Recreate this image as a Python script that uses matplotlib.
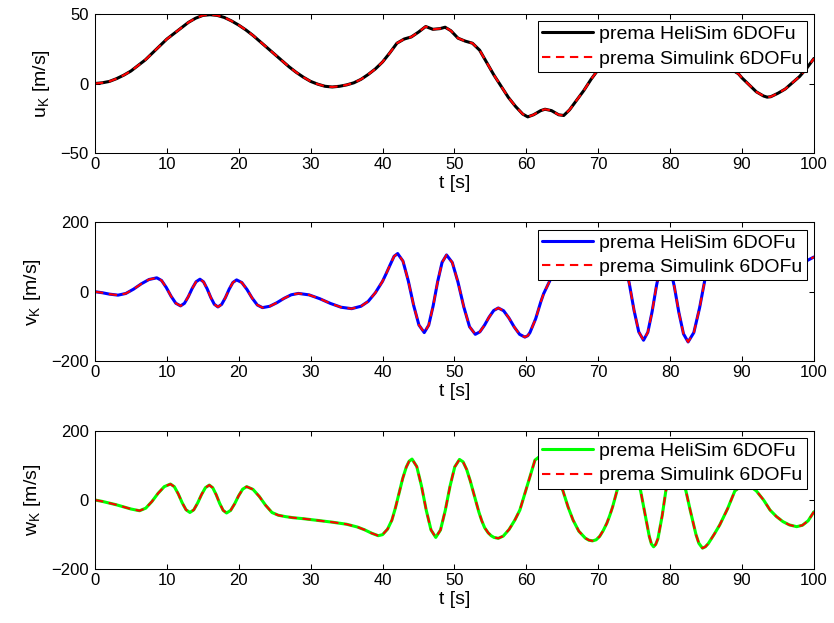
import matplotlib
matplotlib.use("Agg")
import matplotlib.pyplot as plt

plt.rcParams['font.family'] = ['Liberation Sans', 'DejaVu Sans']
plt.rcParams['mathtext.fontset'] = 'custom'
plt.rcParams['mathtext.rm'] = 'Liberation Sans'

# ---------------- data ----------------
t_u = [0, 1, 2, 3, 4, 5, 6, 7, 8, 9, 10, 11, 12, 13, 14, 15, 16, 17, 18, 19,
       20, 21, 22, 23, 24, 25, 26, 27, 28, 29, 30, 31, 32, 33, 34, 35, 36, 37,
       38, 39, 40, 41, 42, 43, 44, 45, 46, 47, 48, 48.7, 49.5, 50.5, 51.5,
       52.5, 53.5, 54.5, 55.5, 56.5, 57.5, 58.5, 59.5, 60.2, 61, 62, 62.6,
       63.5, 64.5, 65.2, 66, 67, 68, 69, 70, 72, 74, 76, 78, 80, 82, 84, 86,
       88, 89.5, 90, 91, 92, 93, 93.5, 94, 95, 96, 97, 98, 99, 100]
u_K = [0, 0.5, 1.5, 3.5, 6, 9, 13, 17, 22, 27, 32, 36, 40, 44, 47, 49, 49.5,
       49, 47.5, 45, 42, 38.5, 34.5, 30, 25.5, 21, 16.5, 12, 8, 4.5, 1.5, -0.5,
       -2, -2.5, -2, -1, 0.5, 3, 6.5, 10.5, 15.5, 22, 29, 32, 33.5, 37, 41, 39,
       39.5, 40.5, 38, 32.6, 30.5, 29, 24, 15, 6, -2, -10, -16.5, -22, -24,
       -22.5, -19.5, -18.5, -19.5, -22.5, -23, -19, -12, -5, 3, 10, 20, 27, 31,
       33, 33, 30, 25, 19, 12, 7, 4, -1, -6, -9, -9.8, -9.5, -7, -4, 0.5, 5,
       11, 18]

t_v = [0, 1, 2, 3.2, 4.28, 5.36, 6.44, 7.52, 8.6, 9.26, 9.92, 10.58, 11.24,
       11.9, 12.44, 12.98, 13.52, 14.06, 14.6, 15.1, 15.6, 16.1, 16.6, 17.1,
       17.62, 18.14, 18.66, 19.18, 19.7, 20.42, 21.14, 21.86, 22.58, 23.3,
       24.3, 25.3, 26.3, 27.3, 28.3, 29.78, 31.26, 32.74, 34.22, 35.7, 37, 38,
       39, 40, 40.5, 41, 41.6, 42.1, 42.84, 43.58, 44.32, 45.06, 45.8, 46.42,
       47.04, 47.66, 48.28, 48.9, 49.7, 50.5, 51.3, 52.1, 52.9, 53.54, 54.18,
       54.82, 55.46, 56.1, 56.84, 57.58, 58.32, 59.06, 59.8, 60.2, 60.5, 61.3,
       62, 62.4, 63.3, 64, 65, 66, 67, 68, 69, 70, 71, 72, 73, 73.66, 74.32,
       74.98, 75.64, 76.3, 76.9, 77.5, 78.1, 78.7, 79.3, 79.94, 80.58, 81.22,
       81.86, 82.5, 83.3, 84.1, 84.9, 85.7, 86.5, 88, 90, 92, 94, 96, 98, 98.9,
       100]
v_K = [0, -3, -7, -10, -5.2, 7.3, 22.7, 35.2, 40, 32.3, 12.0, -13.0, -33.3,
       -41, -33.6, -14.4, 9.4, 28.6, 36, 28.4, 8.4, -16.4, -36.4, -44, -36.6,
       -17.1, 7.1, 26.6, 34, 26.4, 6.4, -18.4, -38.4, -46, -42.1, -31.8, -19.2,
       -8.9, -5, -9.2, -20.2, -33.8, -44.8, -49, -42, -28, -3, 30, 52, 75, 102,
       110, 88.2, 31.2, -39.2, -96.2, -118, -96.6, -40.6, 28.6, 84.6, 106,
       84.1, 26.9, -43.9, -101.1, -123, -115.7, -96.7, -73.3, -54.3, -47, -55,
       -76, -102, -123, -131, -127, -118, -78, -30, -6, 33, 60, 95, 118, 125,
       115, 100, 92, 95, 105, 110, 86, 23.6, -53.6, -116, -140, -117, -57, 17,
       77, 100, 76.6, 15.4, -60.4, -121.6, -145, -117.8, -46.5, 41.5, 112.8,
       140, 130, 105, 80, 68, 68, 78, 88, 100]

t_w = [0, 1, 2, 3, 4, 5, 6.2, 7.06, 7.92, 8.78, 9.64, 10.5, 11.04, 11.58,
       12.12, 12.66, 13.2, 13.74, 14.28, 14.82, 15.36, 15.9, 16.38, 16.86,
       17.34, 17.82, 18.3, 18.86, 19.42, 19.98, 20.54, 21.1, 21.98, 22.86,
       23.74, 24.62, 25.5, 26.5, 27.5, 29, 31, 33, 35, 36.5, 37.5, 38.5, 39.4,
       40, 40.7, 41.3, 41.8, 42.3, 42.8, 43.3, 43.7, 44.1, 44.76, 45.42, 46.08,
       46.74, 47.4, 48.06, 48.72, 49.38, 50.04, 50.7, 51.2, 51.7, 52.2, 52.6,
       53, 53.4, 53.8, 54.2, 54.7, 55.1, 55.5, 56.1, 56.8, 57.6, 58.4, 59.1,
       60, 60.6, 61.2, 62, 62.8, 63.6, 64.4, 65.1, 65.8, 66.5, 67.3, 68.2,
       68.7, 69.2, 69.7, 70.2, 70.7, 71.2, 71.6, 72, 72.6, 73.4, 74.3, 75.2,
       75.9, 76.5, 77.1, 77.4, 77.7, 78.0, 78.3, 78.9, 79.4, 80.2, 80.9, 81.6,
       82.2, 82.8, 83.6, 84.0, 84.5, 84.9, 85.3, 86.1, 86.9, 88, 89, 90.5, 92,
       93, 93.9, 94.8, 95.7, 96.6, 97.6, 98.4, 99.2, 100]
w_K = [0, -4, -9, -14, -20, -26, -31, -23.6, -4.4, 19.4, 38.6, 46, 38.2, 17.7,
       -7.7, -28.2, -36, -28.5, -8.7, 15.7, 35.5, 43, 35.3, 15.2, -9.7, -29.8,
       -37.5, -30.2, -11.2, 12.2, 31.2, 38.5, 30.6, 10, -15.5, -36.1, -44, -48,
       -51, -54, -59, -64, -70, -78, -86, -96, -103, -100, -84, -58, -22, 20,
       62, 95, 112, 118, 96.4, 39.9, -29.9, -86.4, -108, -86.5, -30.3, 39.3,
       95.5, 117, 110, 88, 55, 25, -5, -35, -60, -80, -95, -103, -108, -110.6,
       -104, -85, -58, -29, 33, 75, 115, 128, 120, 98, 62, 26, -20, -58, -90,
       -110, -116, -118, -115, -105, -88, -67, -45, -20, 26, 80, 100, 72, 26,
       -40, -105, -127, -135, -128, -112, -45, 26, 80, 95, 65, 26, -30, -100,
       -125, -139, -135, -126, -100, -72, -25, 26, 50, 26, 0, -29, -48, -62.5,
       -72, -77, -73, -60, -34]

series = [
    (t_u, u_K, 'u$_\\mathregular{K}$ [m/s]', 'black', (-50, 50), [-50, 0, 50]),
    (t_v, v_K, 'v$_\\mathregular{K}$ [m/s]', 'blue', (-200, 200), [-200, 0, 200]),
    (t_w, w_K, 'w$_\\mathregular{K}$ [m/s]', '#00ff00', (-200, 200), [-200, 0, 200]),
]
x_ticks = list(range(0, 101, 10))
labels = ['prema HeliSim 6DOFu', 'prema Simulink 6DOFu']

fig = plt.figure(figsize=(8.34, 6.23), dpi=100)
positions = [[0.1139, 0.7544, 0.862, 0.2231],
             [0.1139, 0.4205, 0.862, 0.2226],
             [0.1139, 0.0862, 0.862, 0.2225]]

for pos, (t, y, ylab, col, ylim, yt) in zip(positions, series):
    ax = fig.add_axes(pos)
    ax.plot(t, y, color=col, lw=2.2, solid_joinstyle='round',
            solid_capstyle='round', label=labels[0])
    ax.plot(t, y, color='red', lw=1.5, linestyle=(0, (4, 2.7)),
            dash_joinstyle='round', label=labels[1])
    ax.set_xlim(0, 100)
    ax.set_ylim(*ylim)
    ax.set_xticks(x_ticks)
    ax.set_yticks(yt)
    ax.tick_params(direction='in', top=True, right=True, length=3.6,
                   width=0.75, labelsize=12, pad=3)
    ax.tick_params(axis='y', pad=4.5)
    for sp in ax.spines.values():
        sp.set_linewidth(0.75)
    ax.set_xlabel('t [s]', fontsize=14, labelpad=2)
    ax.set_ylabel(ylab, fontsize=14, labelpad=6)
    leg = ax.legend(loc='upper right', fontsize=14, fancybox=False,
                    framealpha=1, edgecolor='black', borderaxespad=0.38,
                    handlelength=2.62, handletextpad=0.3, borderpad=0.22,
                    labelspacing=0.35)
    leg.get_frame().set_linewidth(0.75)

fig.savefig('out.png', dpi=100)
